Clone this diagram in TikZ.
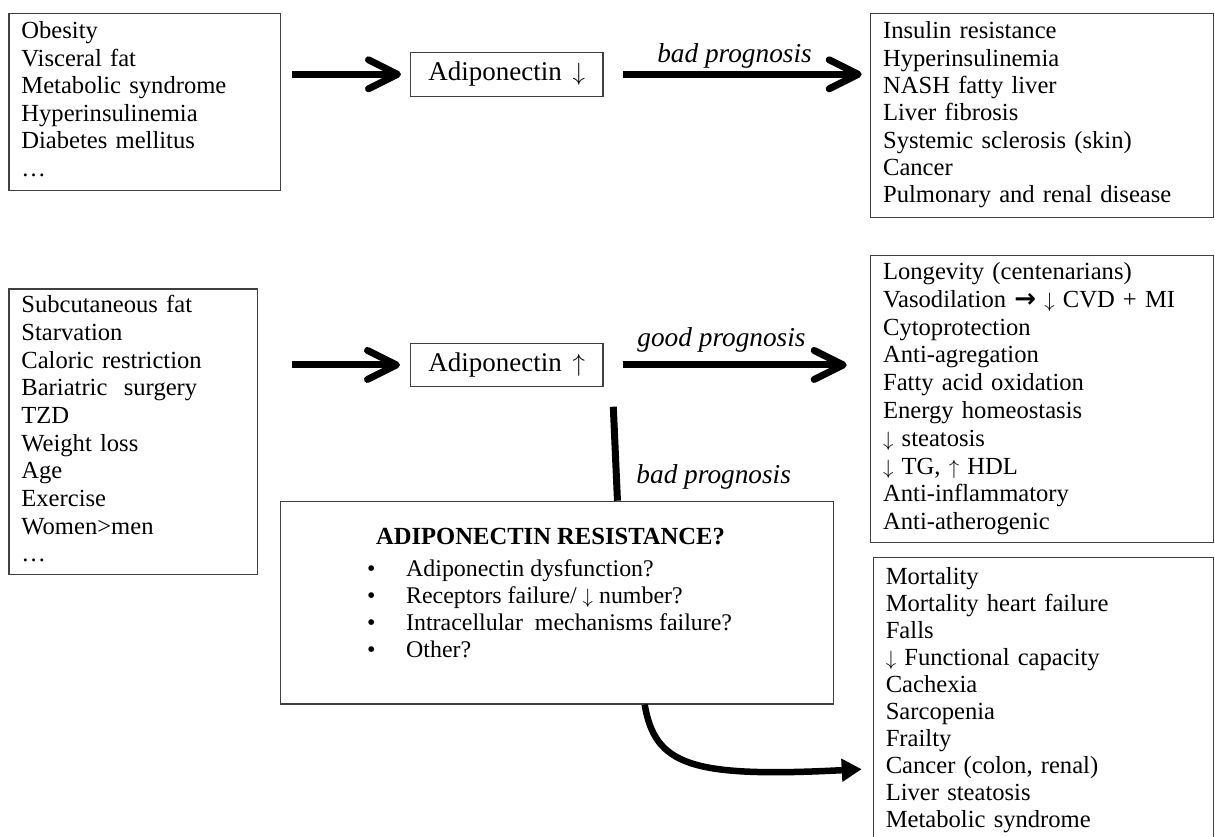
\documentclass[tikz,border=0pt]{standalone}
\usepackage{fontspec}
\setmainfont{Liberation Serif}
\newfontfamily\arrfont{DejaVu Sans}
\usetikzlibrary{arrows.meta,calc}
\newcommand{\dn}{{\fontsize{21}{21}\selectfont$\downarrow$}}
\newcommand{\up}{{\fontsize{21}{21}\selectfont$\uparrow$}}
\begin{document}
\begin{tikzpicture}[x=1pt,y=-1pt,
  listbox/.style={draw=black!75, line width=1.2pt, anchor=north west,
    inner xsep=12.5pt, inner ysep=0pt, align=left},
  adbox/.style={draw=black!75, line width=1.2pt, anchor=north west,
    inner sep=0pt, minimum width=192.3pt, font=\fontsize{27}{30}\selectfont},
  lab/.style={inner sep=0pt, anchor=base, font=\fontsize{27.3}{30}\selectfont\itshape},
  fat/.style={line width=7pt, -{Straight Barb[length=29pt,width=29pt,round]}},
  stem/.style={line width=7pt},
  curvy/.style={line width=6.5pt, -{Triangle[length=20pt,width=22pt]}}
]
\useasboundingbox (0,0) rectangle (1215,836);

% left boxes
\node[listbox, minimum width=271.7pt, minimum height=177.3pt, text width=246.7pt,
  font=\fontsize{24.6}{27.5}\selectfont] (A) at (8.3,12.7)
  {\strut Obesity\\Visceral fat\\Metabolic syndrome\\Hyperinsulinemia\\Diabetes mellitus\\…\strut};
\node[listbox, minimum width=248.4pt, minimum height=285.7pt, text width=223.4pt,
  font=\fontsize{24.6}{27.7}\selectfont] (C) at (8.3,288.3)
  {\strut Subcutaneous fat\\Starvation\\Caloric restriction\\Bariatric\ \ surgery\\TZD\\Weight loss\\Age\\Exercise\\Women>men\\…\strut};

% adiponectin boxes
\node[adbox, minimum height=44pt] (Ad) at (410,51.7) {Adiponectin\hspace{0.4em}{\fontsize{25}{25}\selectfont$\downarrow$}};
\node[adbox, minimum height=43.3pt] (Au) at (410,342.7) {Adiponectin\hspace{0.4em}{\fontsize{25}{25}\selectfont$\uparrow$}};

% right boxes
\node[listbox, minimum width=343pt, minimum height=204pt, text width=318pt,
  font=\fontsize{24.6}{27.3}\selectfont] (B) at (870,12.7)
  {\strut Insulin resistance\\Hyperinsulinemia\\NASH fatty liver\\Liver\ fibrosis\\Systemic sclerosis (skin)\\Cancer\\Pulmonary and renal disease\strut};
\node[listbox, minimum width=343pt, minimum height=286.7pt, text width=318pt,
  font=\fontsize{24.6}{27.8}\selectfont] (D) at (870,255)
  {\strut Longevity (centenarians)\\Vasodilation {\arrfont\bfseries\fontsize{26}{26}\selectfont →} \dn\ CVD + MI\\Cytoprotection\\Anti-agregation\\Fatty acid oxidation\\Energy homeostasis\\\dn\ steatosis\\\dn\ TG, \up\ HDL\\Anti-inflammatory\\Anti-atherogenic\strut};
\node[listbox, minimum width=340.3pt, minimum height=286.6pt, text width=315.3pt,
  font=\fontsize{24.6}{26.9}\selectfont] (F) at (872.7,556.7)
  {\strut Mortality\\Mortality heart failure\\Falls\\\dn\ Functional capacity\\Cachexia\\Sarcopenia\\Frailty\\Cancer (colon, renal)\\Liver\ steatosis\\Metabolic syndrome\strut};

% resistance box
\node[draw=black!75, line width=1.2pt, anchor=north west, inner sep=0pt,
  minimum width=553pt, minimum height=202.6pt] (E) at (280,500.7) {};
\node[inner sep=0pt, font=\fontsize{24.6}{27}\selectfont\bfseries] (Et) at (550.5,536.7)
  {ADIPONECTIN RESISTANCE?};
\node[inner sep=0pt, anchor=north west, align=left, font=\fontsize{23.9}{27}\selectfont] (El) at (367,557.8)
  {\strut\makebox[39pt][l]{•}Adiponectin dysfunction?\\
   \makebox[39pt][l]{•}Receptors failure/ \dn\ number?\\
   \makebox[39pt][l]{•}Intracellular\ \ mechanisms failure?\\
   \makebox[39pt][l]{•}Other?\strut};

% labels
\node[lab] (l1) at (734.5,62) {bad prognosis};
\node[lab] (l2) at (721.5,346.5) {good prognosis};
\node[lab] (l3) at (713.7,483.3) {bad prognosis};

% connectors
\draw[fat, shorten <=10.7pt, shorten >=9pt] (A.east |- Ad.west) -- (Ad.west);
\draw[fat, shorten <=19.4pt, shorten >=8.3pt] (Ad.east) -- (B.west |- Ad.east);
\draw[fat, shorten <=34pt, shorten >=10pt] (C.east |- Au.west) -- (Au.west);
\draw[fat, shorten <=19.4pt, shorten >=23.3pt] (Au.east) -- (D.west |- Au.east);
\coordinate (vt) at (613.3,406.7);
\draw[stem] (vt) -- ($(E.north west)!0.6089!(E.north east)$);
\draw[curvy, shorten >=11pt] ($(E.south west)!0.658!(E.south east)$)
  .. controls (655,765) and (690,778) .. ([yshift=-68pt]F.west);
\end{tikzpicture}
\end{document}
